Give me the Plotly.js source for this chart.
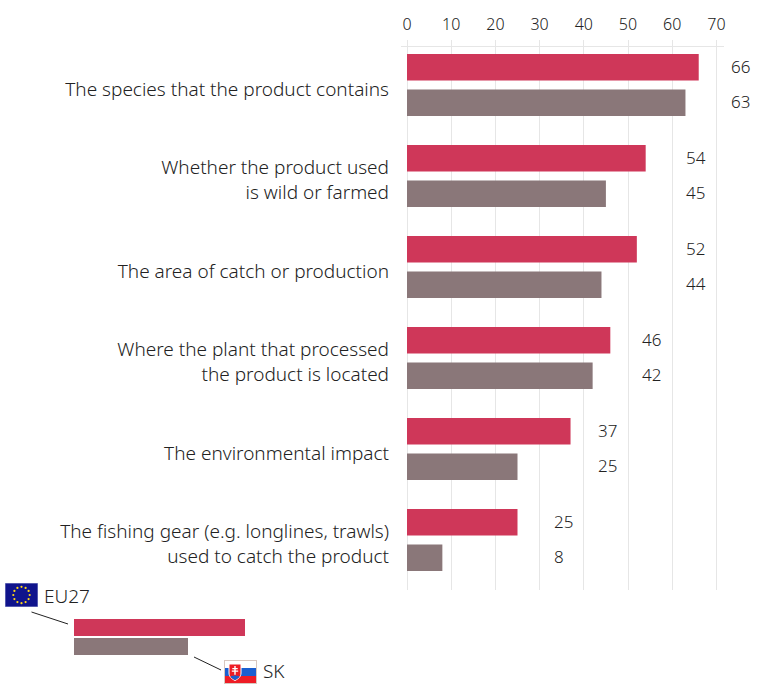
<!DOCTYPE html>
<html>
<head>
<meta charset="utf-8">
<script src="https://cdn.plot.ly/plotly-3.0.1.min.js"></script>
<style>html,body{margin:0;padding:0;background:#fff}</style>
</head>
<body>
<div id="chart" style="width:764px;height:684px"></div>
<script>
// Survey answers, in percent, one pair of bars per statement
const categories = [
  "The species that the product contains",
  "Whether the product used<br>is wild or farmed",
  "The area of catch or production",
  "Where the plant that processed<br>the product is located",
  "The environmental impact",
  "The fishing gear (e.g. longlines, trawls)<br>used to catch the product"
];
const eu27Values = [66, 54, 52, 46, 37, 25];
const skValues = [63, 45, 44, 42, 25, 8];
const tickValues = [0, 10, 20, 30, 40, 50, 60, 70];

const RED = "#cf3759", TAUPE = "#8a7779", INK = "#222222", GRID = "#e6e6e6";
const FONT = "Noto Sans, sans-serif", WEIGHT = 300;

// Page-pixel geometry of the plotting area
const W = 764, H = 684, L = 401, R = 724, T = 40, B = 590;
const PX_PER_UNIT = 4.42, ZERO_X = 407;
const px = x => (x - L) / (R - L);
const py = y => (B - y) / (B - T);

// Plot band is 91px per category; first category centre sits at y = 85
const PITCH = 91, FIRST = 85;

const bars = (name, values, color) => ({
  type: "bar", orientation: "h", name, x: values, y: categories,
  marker: {color, line: {width: 0}}, hoverinfo: "x+name", cliponaxis: false
});

// Value labels sit in a column just past the next gridline after the EU27 bar.
// The column can fall beyond the axis range, so it is placed in paper space.
const annotations = [];
categories.forEach((c, i) => {
  const col = Math.ceil(eu27Values[i] / 10) * 10 + 3;
  [[eu27Values[i], -17.75], [skValues[i], 17.75]].forEach(([v, dy]) => {
    annotations.push({
      xref: "paper", yref: "paper", x: px(ZERO_X + col * PX_PER_UNIT - 1),
      y: py(FIRST + i * PITCH + dy - 1), xanchor: "left", yanchor: "middle",
      text: String(v), showarrow: false, font: {family: FONT, weight: WEIGHT, size: 17, color: INK}
    });
  });
});

// Legend labels
annotations.push(
  {xref: "paper", yref: "paper", x: px(42), y: py(596), xanchor: "left", yanchor: "middle",
   text: "EU27", showarrow: false, font: {family: FONT, weight: WEIGHT, size: 19, color: INK}},
  {xref: "paper", yref: "paper", x: px(261), y: py(671.4), xanchor: "left", yanchor: "middle",
   text: "SK", showarrow: false, font: {family: FONT, weight: WEIGHT, size: 19, color: INK}}
);

const rect = (x0, y0, x1, y1, color) => ({
  type: "rect", xref: "paper", yref: "paper", x0: px(x0), x1: px(x1), y0: py(y0), y1: py(y1),
  fillcolor: color, line: {width: 0}, layer: "above"
});
const seg = (x0, y0, x1, y1, color, width) => ({
  type: "line", xref: "paper", yref: "paper", x0: px(x0), x1: px(x1), y0: py(y0), y1: py(y1),
  line: {color, width}, layer: "above"
});

const shapes = [
  seg(L, 46.5, R, 46.5, GRID, 1),
  rect(74, 619, 245, 636, RED),
  rect(74, 638, 188, 655, TAUPE),
  seg(31.5, 612, 68, 624, INK, 1),
  seg(194, 657, 221, 670, INK, 1)
];

// Flag artwork as inline vector images
const stars = Array.from({length: 12}, (_, i) => {
  const a = i * Math.PI / 6;
  return `<circle cx="${16.5 + 8.2 * Math.sin(a)}" cy="${12 - 8.2 * Math.cos(a)}" r="1.1" fill="#ffd617"/>`;
}).join("");
const euFlag = `<svg xmlns="http://www.w3.org/2000/svg" width="33" height="24" viewBox="0 0 33 24"><rect width="33" height="24" fill="#10148c"/><rect x=".25" y=".25" width="32.5" height="23.5" fill="none" stroke="#9aa0d0" stroke-width=".5"/>${stars}</svg>`;
const skFlag = `<svg xmlns="http://www.w3.org/2000/svg" width="33" height="24" viewBox="0 0 33 24"><rect width="33" height="8" fill="#fff"/><rect y="8" width="33" height="8" fill="#1a5fd0"/><rect y="16" width="33" height="8" fill="#ee1c25"/><rect x=".5" y=".5" width="32" height="23" fill="none" stroke="#d8c8c0" stroke-width="1"/><path d="M5 4h12v9c0 4-3 6-6 7.500c-3-1.500-6-3.500-6-7.500z" fill="#ee1c25" stroke="#fff" stroke-width="1"/><path d="M10.300 6h1.400v2h2v1.300h-2v1.200h2.500v1.300h-2.500v3h-1.400v-3H7.800v-1.300h2.500V9.300h-2V8h2z" fill="#fff"/><path d="M6.500 17c1-1.500 2-1.500 2.700-.8c.8-1.200 2.800-1.200 3.600 0c.7-.7 1.700-.7 2.700.8c-1 1-2.800 2.300-4.500 3c-1.700-.7-3.500-2-4.500-3z" fill="#1a5fd0"/></svg>`;
const dataUri = s => "data:image/svg+xml;utf8," + encodeURIComponent(s);
const flag = (svg, x0, y0, x1, y1) => ({
  source: dataUri(svg), xref: "paper", yref: "paper",
  x: px(x0), y: py(y0), sizex: (x1 - x0) / (R - L), sizey: (y1 - y0) / (B - T),
  xanchor: "left", yanchor: "top", sizing: "stretch", layer: "above"
});

const layout = {
  width: W, height: H,
  margin: {l: L, r: W - R, t: T, b: H - B, pad: 0},
  paper_bgcolor: "#fff", plot_bgcolor: "#fff",
  showlegend: false, barmode: "group", bargap: 0.22, bargroupgap: 0.248,
  font: {family: FONT, color: INK},
  xaxis: {
    side: "top", range: [(L - ZERO_X) / PX_PER_UNIT, (R - ZERO_X) / PX_PER_UNIT],
    tickmode: "array", tickvals: tickValues, ticktext: tickValues.map(String),
    showgrid: true, gridcolor: GRID, gridwidth: 1, zeroline: false, showline: false,
    ticks: "", tickfont: {family: FONT, weight: WEIGHT, size: 16, color: INK}, ticklabelstandoff: 6
  },
  yaxis: {
    type: "category", categoryorder: "array", categoryarray: categories,
    range: [categories.length - 1 + (B - (FIRST + 5 * PITCH)) / PITCH, -(FIRST - T) / PITCH],
    showgrid: false, zeroline: false, showline: false, ticks: "",
    tickfont: {family: FONT, weight: WEIGHT, size: 19, color: INK}, ticklabelstandoff: 11, ticklabelshift: -4
  },
  annotations, shapes,
  images: [flag(euFlag, 5, 583, 38, 607), flag(skFlag, 224, 660, 257, 684)]
};

Plotly.newPlot("chart", [bars("EU27", eu27Values, RED), bars("SK", skValues, TAUPE)], layout,
  {displayModeBar: false, responsive: false});
</script>
</body>
</html>
